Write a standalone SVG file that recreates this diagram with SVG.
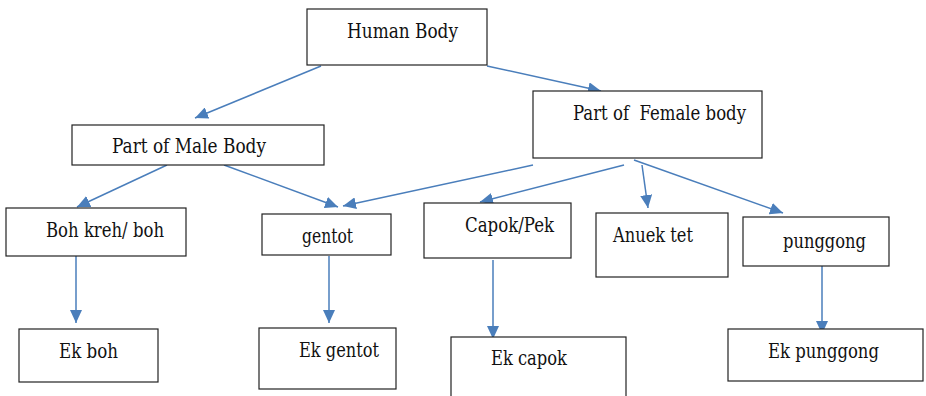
<svg xmlns="http://www.w3.org/2000/svg" width="926" height="396" viewBox="0 0 926 396">
<style>
.box{fill:#fff;stroke:#222;stroke-width:1.2}
.lbl{font-family:'DejaVu Serif Condensed','DejaVu Serif',serif;font-stretch:condensed;font-size:19.5px;fill:#111}
.edge{stroke:#4a7ebb;stroke-width:1.5;fill:none;marker-end:url(#ah)}
</style>
<defs>
<marker id="ah" markerUnits="userSpaceOnUse" markerWidth="14" markerHeight="12" viewBox="0 0 14 12" refX="13" refY="6" orient="auto">
<path d="M0,0 L13,6 L0,12 Z" fill="#4a7ebb"/>
</marker>
</defs>
<rect width="926" height="396" fill="#fff"/>
<g id="connectors">
<line class="edge" x1="321" y1="66" x2="195" y2="118"/>
<line class="edge" x1="487" y1="66" x2="601" y2="91"/>
<line class="edge" x1="167" y1="165" x2="77" y2="207"/>
<line class="edge" x1="224" y1="165" x2="338" y2="207"/>
<line class="edge" x1="533" y1="165" x2="343" y2="206"/>
<line class="edge" x1="624" y1="165" x2="480" y2="202"/>
<line class="edge" x1="642" y1="165" x2="648" y2="208"/>
<line class="edge" x1="634" y1="160" x2="783" y2="213"/>
<line class="edge" x1="76" y1="244" x2="76" y2="323"/>
<line class="edge" x1="329" y1="256" x2="329" y2="323"/>
<line class="edge" x1="493" y1="260" x2="493" y2="339"/>
<line class="edge" x1="822" y1="266" x2="822" y2="334"/>
</g>
<g id="human-body"><rect class="box" x="307" y="9" width="180" height="56"/><text class="lbl" x="347" y="38" textLength="111" lengthAdjust="spacingAndGlyphs">Human Body</text></g>
<g id="male-body"><rect class="box" x="72" y="125" width="252" height="40"/><text class="lbl" x="112" y="153" textLength="154" lengthAdjust="spacingAndGlyphs">Part of Male Body</text></g>
<g id="female-body"><rect class="box" x="533" y="91" width="229" height="67"/><text class="lbl" x="573" y="120" xml:space="preserve" textLength="173" lengthAdjust="spacingAndGlyphs">Part of  Female body</text></g>
<g id="boh-kreh"><rect class="box" x="6" y="208" width="180" height="48"/><text class="lbl" x="46" y="237" textLength="118" lengthAdjust="spacingAndGlyphs">Boh kreh/ boh</text></g>
<g id="gentot"><rect class="box" x="262" y="214" width="129" height="41"/><text class="lbl" x="302" y="243" textLength="51" lengthAdjust="spacingAndGlyphs">gentot</text></g>
<g id="capok"><rect class="box" x="424" y="203" width="147" height="55"/><text class="lbl" x="465" y="232" textLength="89" lengthAdjust="spacingAndGlyphs">Capok/Pek</text></g>
<g id="anuek-tet"><rect class="box" x="596" y="213" width="132" height="64"/><text class="lbl" x="613" y="242" textLength="80" lengthAdjust="spacingAndGlyphs">Anuek tet</text></g>
<g id="punggong"><rect class="box" x="743" y="217" width="146" height="49"/><text class="lbl" x="783" y="248" textLength="83" lengthAdjust="spacingAndGlyphs">punggong</text></g>
<g id="ek-boh"><rect class="box" x="19" y="329" width="139" height="53"/><text class="lbl" x="59" y="358" textLength="59" lengthAdjust="spacingAndGlyphs">Ek boh</text></g>
<g id="ek-gentot"><rect class="box" x="259" y="328" width="137" height="61"/><text class="lbl" x="299" y="357" textLength="80" lengthAdjust="spacingAndGlyphs">Ek gentot</text></g>
<g id="ek-capok"><rect class="box" x="451" y="337" width="175" height="70"/><text class="lbl" x="491" y="365" textLength="76" lengthAdjust="spacingAndGlyphs">Ek capok</text></g>
<g id="ek-punggong"><rect class="box" x="728" y="329" width="195" height="52"/><text class="lbl" x="768" y="358" textLength="111" lengthAdjust="spacingAndGlyphs">Ek punggong</text></g>
</svg>
